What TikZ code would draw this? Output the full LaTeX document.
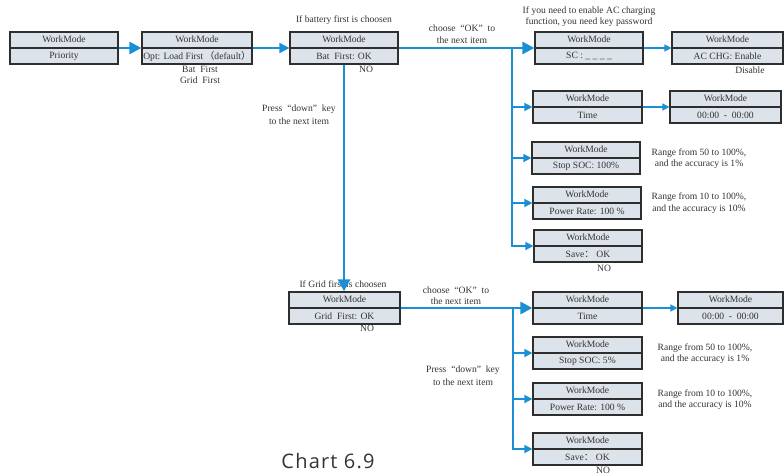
\documentclass[tikz,border=0pt]{standalone}
\usepackage{fontspec}
\setmainfont{Liberation Serif}
\newfontfamily\cjk{Noto Sans CJK SC}
\newfontfamily\chartfont[LetterSpace=6]{Open Sans}
\usetikzlibrary{arrows.meta,calc}
\definecolor{arrowblue}{HTML}{1A8FD6}
\definecolor{boxfill}{HTML}{DDE3EA}
\definecolor{boxline}{HTML}{2E2E2E}
\definecolor{txt}{HTML}{333333}
\tikzset{
  wmbox/.style={draw=boxline, line width=1.2pt, fill=boxfill, rectangle, inner sep=0pt},
  lbl/.style={text=txt, font=\fontsize{9.6}{11.5}\selectfont, inner sep=0pt, align=center},
  thickarrow/.style={draw=arrowblue, line width=2.8pt, -{Triangle[length=12pt,width=12pt]}},
  medarrow/.style={draw=arrowblue, line width=2pt, -{Triangle[length=10pt,width=10pt]}},
  brarrow/.style={draw=arrowblue, line width=1.5pt, -{Triangle[length=8pt,width=8pt]}},
  thinarrow/.style={draw=arrowblue, line width=1.5pt, -{Triangle[length=7pt,width=7pt]}},
}
% #1 name, #2 left x, #3 top y, #4 right x, #5 bottom y, #6 lower text
\newcommand\wmnode[6]{%
  \node[wmbox, minimum width={#4-#2}, minimum height={#5-#3}] (#1) at ({(#2+#4)/2},{(#3+#5)/2}) {};
  \draw[draw=boxline, line width=1.2pt] (#1.west) -- (#1.east);
  \node[lbl] at ($(#1.north)!0.5!(#1.center)$) {WorkMode};
  \node[lbl] at ($(#1.south)!0.5!(#1.center)$) {#6};
}
\begin{document}
\begin{tikzpicture}[x=1pt,y=-1pt]
\useasboundingbox (0,0) rectangle (784,474);
% boxes
\wmnode{b1}{10}{32}{118}{64}{Priority}
\wmnode{b2}{142}{32}{252}{64}{Opt: Load First\,{\cjk（}default{\cjk）}}
\wmnode{b3}{290}{32}{398}{64}{Bat\ \ First: OK}
\wmnode{b4}{535}{32}{643}{64}{SC :\ \_\ \_\ \_\ \_}
\wmnode{b5}{672}{32}{783}{64}{AC CHG: Enable}
\wmnode{bt}{533}{91}{642}{123}{Time}
\wmnode{bz}{670}{91}{781}{123}{00:00\ \ -\ \ 00:00}
\wmnode{bs}{532}{142}{640}{174}{Stop SOC: 100\%}
\wmnode{bp}{533}{187}{641}{219}{Power Rate: 100 \%}
\wmnode{bv}{534}{230}{642}{262}{Save{\cjk：}\ OK}
\wmnode{g}{289}{292}{400}{324}{Grid\ \ First: OK}
\wmnode{gt}{533}{292}{642}{324}{Time}
\wmnode{gz}{678}{292}{783}{324}{00:00\ \ -\ \ 00:00}
\wmnode{gs}{533}{337}{642}{369}{Stop SOC: 5\%}
\wmnode{gp}{533}{383}{642}{415}{Power Rate: 100 \%}
\wmnode{gv}{533}{433}{642}{465}{Save{\cjk：}\ OK}
% texts
\node[lbl] (t1) at (200,69) {Bat\ \ First};
\node[lbl] (t2) at (200,80) {Grid\ \ First};
\node[lbl] (t3) at (344,20) {If battery first is choosen};
\node[lbl] (t4) at (462,28) {choose\ \ “OK”\ \ to};
\node[lbl] (t5) at (462,40) {the next item};
\node[lbl] (t6) at (589,11) {If you need to enable AC charging};
\node[lbl] (t7) at (589,22) {function, you need key password};
\node[lbl] (t8) at (366,69) {NO};
\node[lbl] (t9) at (750,70) {Disable};
\node[lbl] (t10) at (299,109) {Press\ \ “down”\ \ key};
\node[lbl] (t11) at (299,121) {to the next item};
\node[lbl] (t12) at (699,153) {Range from 50 to 100\%,};
\node[lbl] (t13) at (699,164) {and the accuracy is 1\%};
\node[lbl] (t14) at (699,197) {Range from 10 to 100\%,};
\node[lbl] (t15) at (699,209) {and the accuracy is 10\%};
\node[lbl] (t16) at (604,268) {NO};
\node[lbl] (t17) at (343,284) {If Grid first is choosen};
\node[lbl] (t18) at (456,290) {choose\ \ “OK”\ \ to};
\node[lbl] (t19) at (456,301) {the next item};
\node[lbl] (t20) at (367,328) {NO};
\node[lbl] (t21) at (705,348) {Range from 50 to 100\%,};
\node[lbl] (t22) at (705,359) {and the accuracy is 1\%};
\node[lbl] (t23) at (463,370) {Press\ \ “down”\ \ key};
\node[lbl] (t24) at (463,382) {to the next item};
\node[lbl] (t25) at (705,394) {Range from 10 to 100\%,};
\node[lbl] (t26) at (705,405) {and the accuracy is 10\%};
\node[lbl] (t27) at (603,470) {NO};
\node[text=txt, font=\chartfont\fontsize{20}{24}\selectfont, inner sep=0pt, anchor=base] (cap) at (328,468) {Chart 6.9};
% connectors
\draw[thickarrow] (b1.east) -- (b2.west);
\draw[medarrow] (b2.east) -- (b3.west);
\draw[thickarrow] (b3.east) -- (b4.west);
\draw[thinarrow] (b4.east) -- (b5.west);
\coordinate (j1) at (512,48);
\draw[brarrow] (j1) |- (bt.west);
\draw[brarrow] (j1) |- (bs.west);
\draw[brarrow] (j1) |- (bp.west);
\draw[brarrow] (j1) |- (bv.west);
\draw[thinarrow] (bt.east) -- (bz.west);
\draw[thickarrow] (b3.south -| 344,0) -- (g.north -| 344,0);
\draw[thickarrow] (g.east) -- (gt.west);
\coordinate (j2) at (513,308);
\draw[brarrow] (j2) |- (gs.west);
\draw[brarrow] (j2) |- (gp.west);
\draw[brarrow] (j2) |- (gv.west);
\draw[thinarrow] (gt.east) -- (gz.west);
\end{tikzpicture}
\end{document}
